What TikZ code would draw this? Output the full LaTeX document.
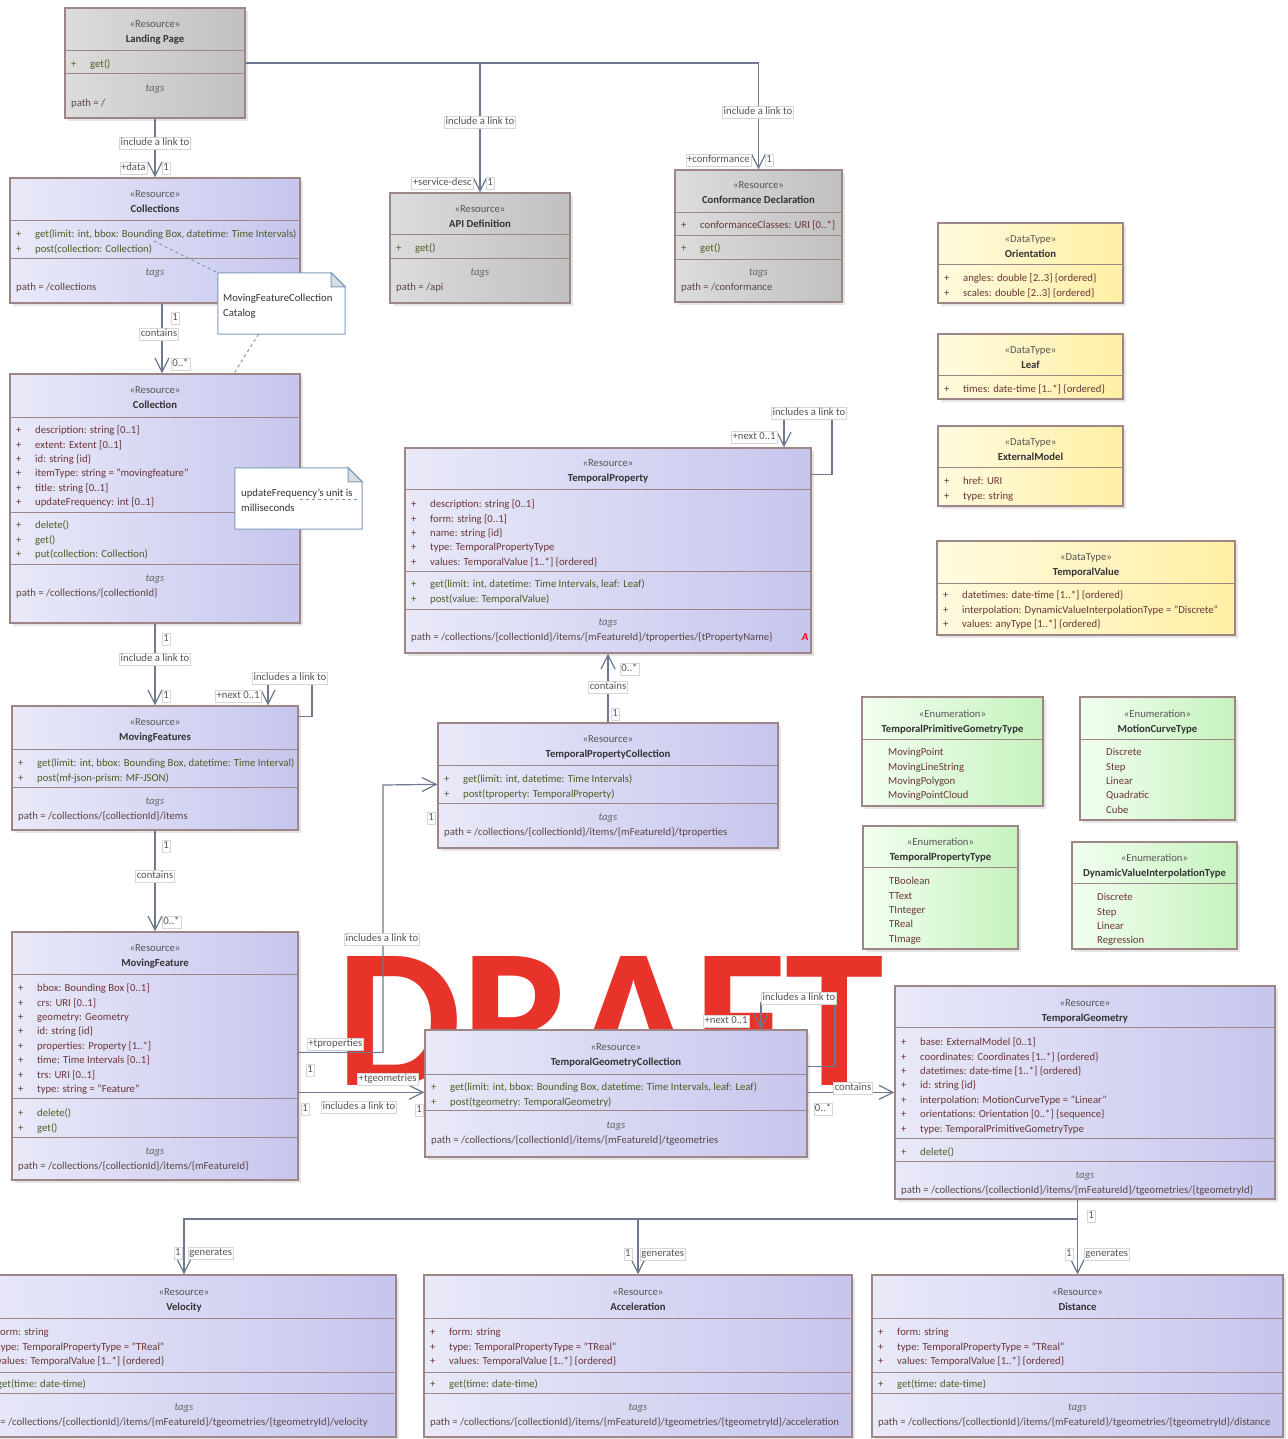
\documentclass[tikz,border=0pt]{standalone}
\usepackage{fontspec}
\setmainfont{Carlito}
\usetikzlibrary{arrows.meta, positioning, fit, shadows}

\definecolor{boxline}{HTML}{9E8686}
\definecolor{resL}{HTML}{E9E9F9}
\definecolor{resR}{HTML}{C6C6EE}
\definecolor{grayL}{HTML}{DCDCDC}
\definecolor{grayR}{HTML}{C0C0C0}
\definecolor{yelL}{HTML}{FFFBE0}
\definecolor{yelR}{HTML}{FFEFA4}
\definecolor{grnL}{HTML}{F2FFF0}
\definecolor{grnR}{HTML}{C6F2BE}
\definecolor{attrC}{HTML}{6B3535}
\definecolor{operC}{HTML}{4A5E22}
\definecolor{stereoC}{HTML}{555555}
\definecolor{titleC}{HTML}{333333}
\definecolor{tagC}{HTML}{666666}
\definecolor{pathC}{HTML}{5C4646}
\definecolor{linkC}{HTML}{6E7891}
\definecolor{lblC}{HTML}{555555}
\definecolor{lblframe}{HTML}{D6D6D6}
\definecolor{noteC}{HTML}{7C9CB8}
\definecolor{foldC}{HTML}{D5DDE5}
\definecolor{draftC}{HTML}{E8332A}

\newcommand{\umlfont}{\fontsize{10.7}{13}\selectfont}
\newcommand{\plus}{\makebox[19pt][l]{+}}

\tikzset{
  txt/.style={inner sep=0pt, text height=7.5pt, text depth=2.3pt, yshift=-2pt, font=\umlfont},
  umlbox/.style={draw=boxline, line width=1.3pt, inner sep=0pt,
    drop shadow={shadow xshift=3pt, shadow yshift=-3pt, opacity=0.2}},
  resource/.style={umlbox, left color=resL, right color=resR},
  core/.style={umlbox, left color=grayL, right color=grayR},
  datatype/.style={umlbox, left color=yelL, right color=yelR},
  enum/.style={umlbox, left color=grnL, right color=grnR},
  divider/.style={draw=boxline, line width=1pt},
  stereo/.style={txt, text=stereoC},
  ctitle/.style={txt, text=titleC, font=\umlfont\bfseries},
  attr/.style={txt, anchor=west, text=attrC},
  oper/.style={txt, anchor=west, text=operC},
  lit/.style={txt, anchor=west, text=attrC},
  tagsty/.style={txt, text=tagC, font=\umlfont\itshape},
  pathsty/.style={txt, anchor=west, text=pathC},
  link/.style={draw=linkC, line width=1.2pt},
  lbl/.style={txt, fill=white, draw=lblframe, line width=0.4pt, inner sep=1.2pt, text=lblC},
  notebox/.style={draw=noteC, fill=white, line width=1pt},
  fold/.style={draw=noteC, fill=foldC, line width=1pt},
  notetext/.style={txt, anchor=west, text=titleC},
  anchorline/.style={draw=noteC, dashed, line width=1pt},
  draft/.style={inner sep=0pt, text=draftC, font=\fontsize{199}{199}\selectfont\bfseries},
}

\newcommand{\classhead}[5]{%
  \node[stereo] (#1-st) at (#2,#3) {«#4»};
  \node[ctitle] (#1-ti) at (#2,#3+14.5) {#5};}
\newcommand{\memberlist}[5]{%
  \foreach \m [count=\k from 0] in {#5}
    \node[#4] (#1-\k) at (#2,#3+\k*14.4) {\plus\m};}
\newcommand{\litlist}[5]{%
  \foreach \m [count=\k from 0] in {#5}
    \node[#4] (#1-\k) at (#2,#3+\k*14.4) {\m};}
\newcommand{\tagrow}[5]{%
  \node[tagsty] (#1-tags) at ({(#2+#3)/2},#4) {tags};
  \node[pathsty] (#1-path) at (#2+6,#4+14.5) {#5};}
\newcommand{\notebody}[1]{%
  \draw[notebox] (#1.north west) -- ([xshift=-14pt]#1.north east) -- ([yshift=-14pt]#1.north east)
    -- (#1.south east) -- (#1.south west) -- cycle;
  \draw[fold] ([xshift=-14pt]#1.north east) -- ([xshift=-14pt,yshift=-14pt]#1.north east)
    -- ([yshift=-14pt]#1.north east) -- cycle;}

\begin{document}
\begin{tikzpicture}[x=1pt, y=-1pt, >={Straight Barb[length=14pt,width=14pt]}]
\useasboundingbox (0,0) rectangle (1287,1439);
\clip (0,0) rectangle (1287,1439);
\fill[white] (0,0) rectangle (1287,1439);

\node[draft, anchor=base west] (draft) at (336,1085) {DRAFT};

\node[core, fit={(65,8) (245,118)}] (lp) {};
\draw[divider] (65,51) -- (245,51) (65,74) -- (245,74);
\classhead{lp}{155}{23}{Resource}{Landing Page}
\memberlist{lp-op}{71}{63}{oper}{{get()}}
\tagrow{lp}{65}{245}{87}{path = /}

\node[core, fit={(390,193) (570,303)}] (api) {};
\draw[divider] (390,235) -- (570,235) (390,258) -- (570,258);
\classhead{api}{480}{208}{Resource}{API Definition}
\memberlist{api-op}{396}{247}{oper}{{get()}}
\tagrow{api}{390}{570}{271}{path = /api}

\node[core, fit={(675,170) (842,302)}] (conf) {};
\draw[divider] (675,213) -- (842,213) (675,236) -- (842,236) (675,259) -- (842,259);
\classhead{conf}{758.5}{184}{Resource}{Conformance Declaration}
\memberlist{conf-at}{681}{224}{attr}{{conformanceClasses: URI [0..*]}}
\memberlist{conf-op}{681}{247}{oper}{{get()}}
\tagrow{conf}{675}{842}{271}{path = /conformance}

\node[resource, fit={(10,178) (300,303)}] (colls) {};
\draw[divider] (10,221) -- (300,221) (10,258) -- (300,258);
\classhead{colls}{155}{193}{Resource}{Collections}
\memberlist{colls-op}{16}{233}{oper}{{get(limit: int, bbox: Bounding Box, datetime: Time Intervals)}, {post(collection: Collection)}}
\tagrow{colls}{10}{300}{271}{path = /collections}

\node[resource, fit={(10,374) (300,623)}] (coll) {};
\draw[divider] (10,417) -- (300,417) (10,512) -- (300,512) (10,564) -- (300,564);
\classhead{coll}{155}{389}{Resource}{Collection}
\memberlist{coll-at}{16}{429}{attr}{{description: string [0..1]}, {extent: Extent [0..1]}, {id: string \{id\}}, {itemType: string = "movingfeature"}, {title: string [0..1]}, {updateFrequency: int [0..1]}}
\memberlist{coll-op}{16}{524}{oper}{{delete()}, {get()}, {put(collection: Collection)}}
\tagrow{coll}{10}{300}{577}{path = /collections/\{collectionId\}}

\node[resource, fit={(12,706) (298,830)}] (mfs) {};
\draw[divider] (12,749) -- (298,749) (12,787) -- (298,787);
\classhead{mfs}{155}{721}{Resource}{MovingFeatures}
\memberlist{mfs-op}{18}{762}{oper}{{get(limit: int, bbox: Bounding Box, datetime: Time Interval)}, {post(mf-json-prism: MF-JSON)}}
\tagrow{mfs}{12}{298}{800}{path = /collections/\{collectionId\}/items}

\node[resource, fit={(12,932) (298,1180)}] (mf) {};
\draw[divider] (12,974) -- (298,974) (12,1098) -- (298,1098) (12,1137) -- (298,1137);
\classhead{mf}{155}{947}{Resource}{MovingFeature}
\memberlist{mf-at}{18}{987}{attr}{{bbox: Bounding Box [0..1]}, {crs: URI [0..1]}, {geometry: Geometry}, {id: string \{id\}}, {properties: Property [1..*]}, {time: Time Intervals [0..1]}, {trs: URI [0..1]}, {type: string = "Feature"}}
\memberlist{mf-op}{18}{1112}{oper}{{delete()}, {get()}}
\tagrow{mf}{12}{298}{1150}{path = /collections/\{collectionId\}/items/\{mFeatureId\}}

\node[resource, fit={(405,448) (811,653)}] (tprop) {};
\draw[divider] (405,489) -- (811,489) (405,571) -- (811,571) (405,609) -- (811,609);
\classhead{tprop}{608}{462}{Resource}{TemporalProperty}
\memberlist{tprop-at}{411}{503}{attr}{{description: string [0..1]}, {form: string [0..1]}, {name: string \{id\}}, {type: TemporalPropertyType}, {values: TemporalValue [1..*] \{ordered\}}}
\memberlist{tprop-op}{411}{583}{oper}{{get(limit: int, datetime: Time Intervals, leaf: Leaf)}, {post(value: TemporalValue)}}
\tagrow{tprop}{405}{811}{621}{path = /collections/\{collectionId\}/items/\{mFeatureId\}/tproperties/\{tPropertyName\}}
\node[txt, text=red, font=\umlfont\bfseries\itshape] (tprop-mark) at (805,636) {A};

\node[resource, fit={(438,723) (778,848)}] (tpcoll) {};
\draw[divider] (438,765) -- (778,765) (438,803) -- (778,803);
\classhead{tpcoll}{608}{738}{Resource}{TemporalPropertyCollection}
\memberlist{tpcoll-op}{444}{778}{oper}{{get(limit: int, datetime: Time Intervals)}, {post(tproperty: TemporalProperty)}}
\tagrow{tpcoll}{438}{778}{816}{path = /collections/\{collectionId\}/items/\{mFeatureId\}/tproperties}

\node[resource, fit={(425,1030) (807,1157)}] (tgcoll) {};
\draw[divider] (425,1074) -- (807,1074) (425,1110) -- (807,1110);
\classhead{tgcoll}{616}{1046}{Resource}{TemporalGeometryCollection}
\memberlist{tgcoll-op}{431}{1086}{oper}{{get(limit: int, bbox: Bounding Box, datetime: Time Intervals, leaf: Leaf)}, {post(tgeometry: TemporalGeometry)}}
\tagrow{tgcoll}{425}{807}{1124}{path = /collections/\{collectionId\}/items/\{mFeatureId\}/tgeometries}

\node[resource, fit={(895,986) (1275,1199)}] (tgeom) {};
\draw[divider] (895,1027) -- (1275,1027) (895,1138) -- (1275,1138) (895,1161) -- (1275,1161);
\classhead{tgeom}{1085}{1002}{Resource}{TemporalGeometry}
\memberlist{tgeom-at}{901}{1041}{attr}{{base: ExternalModel [0..1]}, {coordinates: Coordinates [1..*] \{ordered\}}, {datetimes: date-time [1..*] \{ordered\}}, {id: string \{id\}}, {interpolation: MotionCurveType = "Linear"}, {orientations: Orientation [0..*] \{sequence\}}, {type: TemporalPrimitiveGometryType}}
\memberlist{tgeom-op}{901}{1151}{oper}{{delete()}}
\tagrow{tgeom}{895}{1275}{1174}{path = /collections/\{collectionId\}/items/\{mFeatureId\}/tgeometries/\{tgeometryId\}}

\node[datatype, fit={(938,223) (1123,303)}] (orient) {};
\draw[divider] (938,264) -- (1123,264);
\classhead{orient}{1030.5}{238}{DataType}{Orientation}
\memberlist{orient-at}{944}{277}{attr}{{angles: double [2..3] \{ordered\}}, {scales: double [2..3] \{ordered\}}}

\node[datatype, fit={(938,334) (1123,399)}] (leaf) {};
\draw[divider] (938,375) -- (1123,375);
\classhead{leaf}{1030.5}{349}{DataType}{Leaf}
\memberlist{leaf-at}{944}{388}{attr}{{times: date-time [1..*] \{ordered\}}}

\node[datatype, fit={(938,426) (1123,506)}] (extmodel) {};
\draw[divider] (938,467) -- (1123,467);
\classhead{extmodel}{1030.5}{441}{DataType}{ExternalModel}
\memberlist{extmodel-at}{944}{480}{attr}{{href: URI}, {type: string}}

\node[datatype, fit={(937,541) (1235,635)}] (tvalue) {};
\draw[divider] (937,583) -- (1235,583);
\classhead{tvalue}{1086}{556}{DataType}{TemporalValue}
\memberlist{tvalue-at}{943}{594}{attr}{{datetimes: date-time [1..*] \{ordered\}}, {interpolation: DynamicValueInterpolationType = "Discrete"}, {values: anyType [1..*] \{ordered\}}}

\node[enum, fit={(862,697) (1043,806)}] (tpgt) {};
\draw[divider] (862,739) -- (1043,739);
\classhead{tpgt}{952.5}{713}{Enumeration}{TemporalPrimitiveGometryType}
\litlist{tpgt-li}{888}{751}{lit}{MovingPoint, MovingLineString, MovingPolygon, MovingPointCloud}

\node[enum, fit={(1080,697) (1235,820)}] (mct) {};
\draw[divider] (1080,739) -- (1235,739);
\classhead{mct}{1157.5}{713}{Enumeration}{MotionCurveType}
\litlist{mct-li}{1106}{751}{lit}{Discrete, Step, Linear, Quadratic, Cube}

\node[enum, fit={(863,826) (1018,949)}] (tpt) {};
\draw[divider] (863,867) -- (1018,867);
\classhead{tpt}{940.5}{841}{Enumeration}{TemporalPropertyType}
\litlist{tpt-li}{889}{880}{lit}{TBoolean, TText, TInteger, TReal, TImage}

\node[enum, fit={(1072,842) (1237,949)}] (dvit) {};
\draw[divider] (1072,883) -- (1237,883);
\classhead{dvit}{1154.5}{857}{Enumeration}{DynamicValueInterpolationType}
\litlist{dvit-li}{1097}{896}{lit}{Discrete, Step, Linear, Regression}

\node[resource, fit={(-28,1275) (396,1437)}] (vel) {};
\draw[divider] (-28,1318) -- (396,1318) (-28,1372) -- (396,1372) (-28,1393) -- (396,1393);
\classhead{vel}{184}{1291}{Resource}{Velocity}
\memberlist{vel-at}{-22}{1331}{attr}{{form: string}, {type: TemporalPropertyType = "TReal"}, {values: TemporalValue [1..*] \{ordered\}}}
\memberlist{vel-op}{-22}{1383}{oper}{{get(time: date-time)}}
\tagrow{vel}{-28}{396}{1406}{path = /collections/\{collectionId\}/items/\{mFeatureId\}/tgeometries/\{tgeometryId\}/velocity}

\node[resource, fit={(424,1275) (852,1437)}] (acc) {};
\draw[divider] (424,1318) -- (852,1318) (424,1372) -- (852,1372) (424,1393) -- (852,1393);
\classhead{acc}{638}{1291}{Resource}{Acceleration}
\memberlist{acc-at}{430}{1331}{attr}{{form: string}, {type: TemporalPropertyType = "TReal"}, {values: TemporalValue [1..*] \{ordered\}}}
\memberlist{acc-op}{430}{1383}{oper}{{get(time: date-time)}}
\tagrow{acc}{424}{852}{1406}{path = /collections/\{collectionId\}/items/\{mFeatureId\}/tgeometries/\{tgeometryId\}/acceleration}

\node[resource, fit={(872,1275) (1283,1437)}] (dist) {};
\draw[divider] (872,1318) -- (1283,1318) (872,1372) -- (1283,1372) (872,1393) -- (1283,1393);
\classhead{dist}{1077.5}{1291}{Resource}{Distance}
\memberlist{dist-at}{878}{1331}{attr}{{form: string}, {type: TemporalPropertyType = "TReal"}, {values: TemporalValue [1..*] \{ordered\}}}
\memberlist{dist-op}{878}{1383}{oper}{{get(time: date-time)}}
\tagrow{dist}{872}{1283}{1406}{path = /collections/\{collectionId\}/items/\{mFeatureId\}/tgeometries/\{tgeometryId\}/distance}

\node[inner sep=0pt, fit={(218,273) (345,334)}] (note1) {};
\notebody{note1}
\litlist{note1-tx}{223}{297}{notetext}{MovingFeatureCollection, Catalog}
\node[inner sep=0pt, fit={(235,468) (362,529)}] (note2) {};
\notebody{note2}
\litlist{note2-tx}{241}{492}{notetext}{{updateFrequency's unit is}, milliseconds}

\coordinate (catpt) at (154,241);
\coordinate (freqpt) at (300,499);
\coordinate (freqend) at (358,499);
\draw[anchorline] (catpt) -- (note1.north west);
\draw[anchorline] ([xshift=-23pt]note1.south) -- ([xshift=79pt]coll.north);
\draw[anchorline] (freqpt) -- (freqend);

\draw[link,->] (lp.south) -- (colls.north);
\node[lbl] (lp-colls-m) at (155,141) {include a link to};
\node[lbl, anchor=east] (lp-colls-r) at (147,166) {+data};
\node[lbl, anchor=west] (lp-colls-n) at (162,166) {1};

\draw[link,->] (lp.east) -| (api.north);
\draw[link,->] (lp.east) -| (conf.north);
\node[lbl] (lp-api-m) at (480,120) {include a link to};
\node[lbl, anchor=east] (lp-api-r) at (473,181) {+service-desc};
\node[lbl, anchor=west] (lp-api-n) at (486,181) {1};
\node[lbl] (lp-conf-m) at (758,110) {include a link to};
\node[lbl, anchor=east] (lp-conf-r) at (751,158) {+conformance};
\node[lbl, anchor=west] (lp-conf-n) at (765,158) {1};

\draw[link,->] ([xshift=7pt]colls.south) -- ([xshift=7pt]coll.north);
\node[lbl, anchor=west] (colls-coll-s) at (171,316) {1};
\node[lbl] (colls-coll-m) at (159,332) {contains};
\node[lbl, anchor=west] (colls-coll-t) at (171,362) {0..*};

\draw[link,->] (coll.south) -- (mfs.north);
\node[lbl, anchor=west] (coll-mfs-s) at (162,637) {1};
\node[lbl] (coll-mfs-m) at (155,657) {include a link to};
\node[lbl, anchor=west] (coll-mfs-t) at (162,694) {1};

\coordinate (mfsloop) at (312,683);
\draw[link,->] ([yshift=-11pt]mfs.north east) -| (mfsloop) -| ([xshift=113pt]mfs.north);
\node[lbl] (mfs-loop-m) at (290,676) {includes a link to};
\node[lbl, anchor=east] (mfs-loop-t) at (261,694) {+next 0..1};

\draw[link,->] (mfs.south) -- (mf.north);
\node[lbl, anchor=west] (mfs-mf-s) at (162,844) {1};
\node[lbl] (mfs-mf-m) at (155,874) {contains};
\node[lbl, anchor=west] (mfs-mf-t) at (162,920) {0..*};

\coordinate (tpturn) at (383,785);
\draw[link,->] ([yshift=-121pt]mf.north east) -| (tpturn) -- ([yshift=-62pt]tpcoll.north west);
\node[lbl] (mf-tpc-m) at (382,937) {includes a link to};
\node[lbl, anchor=west] (mf-tpc-r) at (307,1042) {+tproperties};
\node[lbl] (mf-tpc-s) at (310,1068) {1};
\node[lbl] (mf-tpc-t) at (431,816) {1};

\draw[link,->] ([yshift=-161pt]mf.north east) -- ([yshift=-63pt]tgcoll.north west);
\node[lbl, anchor=east] (mf-tgc-r) at (418,1077) {+tgeometries};
\node[lbl] (mf-tgc-s) at (305,1107) {1};
\node[lbl] (mf-tgc-m) at (359,1105) {includes a link to};
\node[lbl] (mf-tgc-t) at (419,1108) {1};

\coordinate (tgloop) at (835,1003);
\draw[link,->] ([yshift=-37pt]tgcoll.north east) -| (tgloop) -| ([xshift=145pt]tgcoll.north);
\node[lbl] (tgc-loop-m) at (799,996) {includes a link to};
\node[lbl, anchor=east] (tgc-loop-t) at (749,1019) {+next 0..1};

\draw[link,->] ([yshift=-63pt]tgcoll.north east) -- ([yshift=-107pt]tgeom.north west);
\node[lbl] (tgc-tg-m) at (853,1086) {contains};
\node[lbl] (tgc-tg-t) at (823,1107) {0..*};

\draw[link,->] (tpcoll.north) -- (tprop.south);
\node[lbl, anchor=west] (tpc-tp-t) at (620,667) {0..*};
\node[lbl] (tpc-tp-m) at (608,685) {contains};
\node[lbl, anchor=west] (tpc-tp-s) at (611,712) {1};

\coordinate (tploop) at (832,418);
\draw[link,->] ([yshift=-27pt]tprop.north east) -| (tploop) -| ([xshift=176pt]tprop.north);
\node[lbl] (tp-loop-m) at (809,411) {includes a link to};
\node[lbl, anchor=east] (tp-loop-t) at (777,435) {+next 0..1};

\coordinate (bus) at (0,1219);
\draw[link,->] (tgeom.south -| dist.north) -- (dist.north);
\draw[link,->] (bus -| dist.north) -| (vel.north);
\draw[link,->] (bus -| acc.north) -- (acc.north);
\node[lbl, anchor=west] (tg-gen-s) at (1087,1214) {1};
\node[lbl, anchor=east] (vel-gen-t) at (182,1251) {1};
\node[lbl, anchor=west] (vel-gen-m) at (188,1251) {generates};
\node[lbl, anchor=east] (acc-gen-t) at (632,1252) {1};
\node[lbl, anchor=west] (acc-gen-m) at (640,1252) {generates};
\node[lbl, anchor=east] (dist-gen-t) at (1073,1252) {1};
\node[lbl, anchor=west] (dist-gen-m) at (1084,1252) {generates};
\end{tikzpicture}
\end{document}
